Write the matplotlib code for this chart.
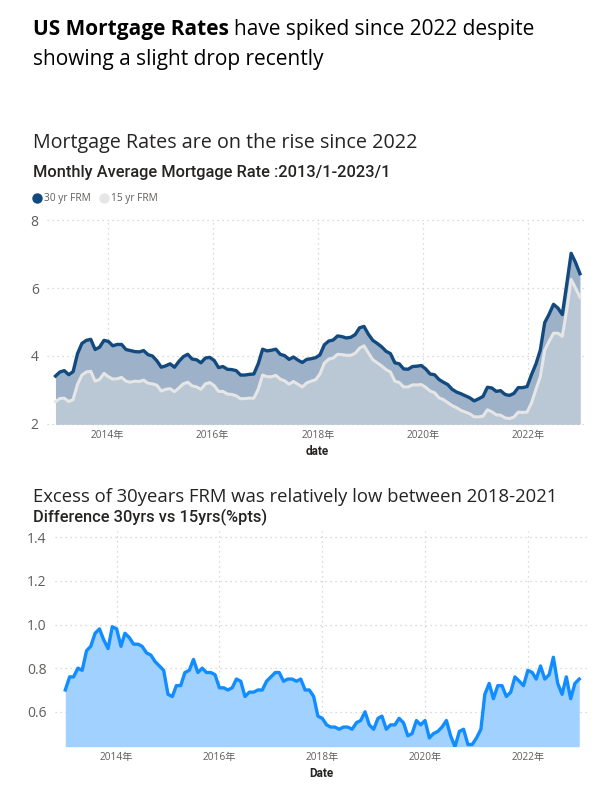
import matplotlib
matplotlib.use('Agg')
import matplotlib.pyplot as plt
import matplotlib.dates as mdates
from matplotlib.lines import Line2D
import pandas as pd

plt.rcParams['font.family'] = ['Open Sans', 'Noto Sans CJK JP', 'DejaVu Sans']

# monthly average rates 2013/1 - 2022/12
frm30 = [3.41, 3.53, 3.57, 3.45, 3.54, 4.07, 4.37, 4.46, 4.49, 4.19, 4.26, 4.46,
         4.43, 4.30, 4.34, 4.34, 4.19, 4.16, 4.13, 4.12, 4.16, 4.04, 4.00, 3.86,
         3.67, 3.71, 3.77, 3.67, 3.84, 3.98, 4.05, 3.91, 3.89, 3.80, 3.94, 3.96,
         3.87, 3.66, 3.69, 3.61, 3.60, 3.57, 3.44, 3.44, 3.46, 3.47, 3.77, 4.20,
         4.15, 4.17, 4.20, 4.05, 4.01, 3.90, 3.97, 3.88, 3.81, 3.90, 3.92, 3.95,
         4.03, 4.33, 4.44, 4.47, 4.59, 4.57, 4.53, 4.55, 4.63, 4.83, 4.87, 4.64,
         4.46, 4.37, 4.27, 4.14, 4.07, 3.80, 3.77, 3.62, 3.61, 3.69, 3.70, 3.72,
         3.62, 3.47, 3.45, 3.31, 3.23, 3.16, 3.02, 2.94, 2.89, 2.83, 2.77, 2.68,
         2.74, 2.81, 3.08, 3.06, 2.96, 2.98, 2.87, 2.84, 2.90, 3.07, 3.07, 3.10,
         3.45, 3.76, 4.17, 4.98, 5.23, 5.52, 5.41, 5.22, 6.11, 7.02, 6.75, 6.42]
frm15 = [2.66, 2.75, 2.76, 2.66, 2.72, 3.17, 3.44, 3.53, 3.55, 3.26, 3.31, 3.49,
         3.39, 3.32, 3.33, 3.37, 3.26, 3.23, 3.26, 3.25, 3.29, 3.20, 3.18, 3.14,
         2.97, 3.02, 3.04, 2.95, 3.06, 3.18, 3.23, 3.12, 3.09, 3.02, 3.18, 3.22,
         3.13, 2.96, 2.96, 2.88, 2.87, 2.83, 2.74, 2.75, 2.76, 2.76, 3.02, 3.44,
         3.39, 3.39, 3.43, 3.32, 3.27, 3.17, 3.25, 3.17, 3.09, 3.21, 3.26, 3.30,
         3.47, 3.79, 3.91, 3.94, 4.05, 4.04, 4.02, 4.02, 4.08, 4.23, 4.30, 4.09,
         3.89, 3.80, 3.71, 3.60, 3.53, 3.26, 3.22, 3.09, 3.09, 3.15, 3.15, 3.16,
         3.08, 2.97, 2.92, 2.77, 2.72, 2.63, 2.54, 2.48, 2.40, 2.35, 2.30, 2.21,
         2.21, 2.23, 2.42, 2.36, 2.27, 2.26, 2.18, 2.16, 2.20, 2.35, 2.34, 2.35,
         2.62, 3.01, 3.39, 4.17, 4.43, 4.67, 4.67, 4.58, 5.35, 6.25, 6.00, 5.73]
rate_dates = pd.date_range('2013-01-03', '2022-12-29', periods=len(frm30))

# difference 30yrs vs 15yrs (%pts), 2013/1 - 2023/1
diff = [0.70, 0.76, 0.76, 0.80, 0.79, 0.88, 0.90, 0.96, 0.98, 0.93, 0.89, 0.99,
        0.98, 0.90, 0.96, 0.94, 0.91, 0.91, 0.90, 0.87, 0.86, 0.83, 0.81, 0.79,
        0.68, 0.67, 0.72, 0.72, 0.78, 0.79, 0.84, 0.78, 0.80, 0.78, 0.78, 0.77,
        0.71, 0.71, 0.70, 0.71, 0.75, 0.74, 0.67, 0.69, 0.69, 0.70, 0.70, 0.74,
        0.76, 0.78, 0.78, 0.74, 0.75, 0.75, 0.74, 0.75, 0.70, 0.70, 0.67, 0.58,
        0.57, 0.54, 0.53, 0.53, 0.52, 0.53, 0.53, 0.52, 0.55, 0.56, 0.60, 0.54,
        0.52, 0.57, 0.58, 0.52, 0.54, 0.54, 0.57, 0.55, 0.49, 0.50, 0.56, 0.54,
        0.56, 0.48, 0.50, 0.51, 0.53, 0.56, 0.49, 0.44, 0.51, 0.52, 0.45, 0.45,
        0.48, 0.52, 0.68, 0.73, 0.66, 0.72, 0.72, 0.67, 0.69, 0.76, 0.74, 0.72,
        0.79, 0.78, 0.75, 0.81, 0.75, 0.77, 0.85, 0.73, 0.68, 0.76, 0.66, 0.73,
        0.75]
diff_dates = pd.date_range('2013-01-01', periods=len(diff), freq='MS')

fig = plt.figure(figsize=(6.16, 7.97), dpi=100)

grid_kw = dict(color='#cfcfcf', linestyle=(0, (1, 3)), linewidth=0.9)
tick_color = '#605E5C'


def style_axes(ax, xlabel):
    for s in ax.spines.values():
        s.set_visible(False)
    ax.grid(True, **grid_kw)
    ax.set_axisbelow(True)
    ax.tick_params(length=0, colors=tick_color)
    ax.tick_params(axis='x', labelsize=7.3, pad=4)
    ax.tick_params(axis='y', labelsize=10, pad=6)
    ax.xaxis.set_major_locator(mdates.YearLocator(2))
    ax.xaxis.set_major_formatter(mdates.DateFormatter('%Y年'))
    ax.set_xlabel(xlabel, fontsize=8.5, fontweight='bold', color='#252423',
                  family=['Roboto'], labelpad=3)


# ---------- top chart ----------
ax1 = fig.add_axes([47 / 616, 1 - 424 / 797, 540 / 616, 204 / 797])
ax1.fill_between(rate_dates, 2, frm30, color='#9DB1C9', lw=0)
ax1.fill_between(rate_dates, 2, frm15, color='#BAC8D5', lw=0)
ax1.plot(rate_dates, frm15, color='#E6E6E6', lw=2.2, solid_joinstyle='round')
ax1.plot(rate_dates, frm30, color='#124A80', lw=2.4, solid_joinstyle='round')
ax1.set_ylim(2, 8)
ax1.set_yticks([2, 4, 6, 8])
ax1.set_xlim(pd.Timestamp('2012-11-05'), pd.Timestamp('2023-02-16'))
style_axes(ax1, 'date')
for gl in ax1.get_ygridlines() + ax1.get_xgridlines():
    gl.set_clip_on(False)

handles = [Line2D([], [], marker='o', ls='', color='#124A80', markersize=6.5),
           Line2D([], [], marker='o', ls='', color='#E6E6E6', markersize=6.5)]
fig.legend(handles, ['30 yr FRM', '15 yr FRM'], loc='center left',
           bbox_to_anchor=(0.043, 1 - 199 / 797), ncol=2, frameon=False,
           fontsize=7.3, labelcolor=tick_color, handletextpad=-0.3,
           columnspacing=0.3, borderaxespad=0, borderpad=0)

# ---------- bottom chart ----------
ax2 = fig.add_axes([55 / 616, 1 - 746.7 / 797, 532 / 616, 216 / 797])
ax2.fill_between(diff_dates, 0.44, diff, color='#A0D1FF', lw=0)
ax2.plot(diff_dates, diff, color='#118DFF', lw=2.4, solid_joinstyle='round')
ax2.set_ylim(0.44, 1.43)
ax2.set_yticks([0.6, 0.8, 1.0, 1.2, 1.4])
ax2.set_yticklabels(['0.6', '0.8', '1.0', '1.2', '1.4'])
ax2.set_xlim(pd.Timestamp('2012-10-20'), pd.Timestamp('2023-02-25'))
style_axes(ax2, 'Date')

# ---------- titles ----------
x0 = 33 / 616
t_bold = fig.text(x0, 1 - 30 / 797, 'US Mortgage Rates', fontsize=15,
                  fontweight='bold', va='center', color='black')
fig.canvas.draw()
bb = t_bold.get_window_extent()
fig.text(bb.x1 / fig.bbox.width + 0.008, 1 - 30 / 797,
         'have spiked since 2022 despite', fontsize=15, va='center', color='black')
fig.text(x0, 1 - 59 / 797, 'showing a slight drop recently', fontsize=15,
         va='center', color='black')

fig.text(x0, 1 - 143 / 797, 'Mortgage Rates are on the rise since 2022',
         fontsize=14.2, va='center', color='#252423')
fig.text(x0, 1 - 173 / 797, 'Monthly Average Mortgage Rate :2013/1-2023/1',
         fontsize=11.8, va='center', color='#252423', family=['Roboto'],
         fontweight='medium')

fig.text(x0, 1 - 497 / 797,
         'Excess of 30years FRM was relatively low between 2018-2021',
         fontsize=13.3, va='center', color='#252423')
fig.text(x0, 1 - 517 / 797, 'Difference 30yrs vs 15yrs(%pts)',
         fontsize=11.8, va='center', color='#252423', family=['Roboto'],
         fontweight='medium')

fig.savefig('out.png', dpi=100)
